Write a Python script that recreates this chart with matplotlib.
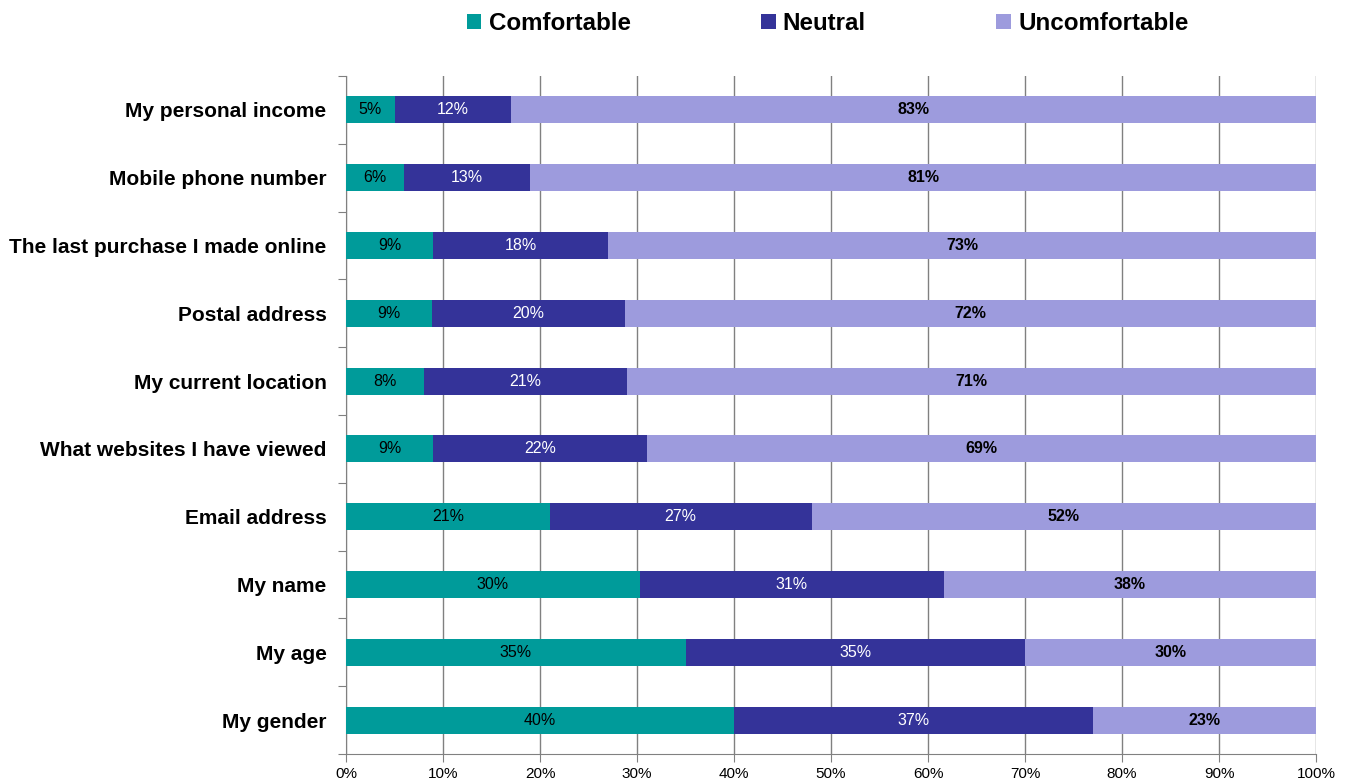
import numpy as np
import matplotlib
matplotlib.use("Agg")
from matplotlib import pyplot as plt
from matplotlib.ticker import FuncFormatter, FixedLocator

plt.rcParams['font.family'] = ['Liberation Sans', 'DejaVu Sans']

# data (top to bottom as in the chart)
categories = ["My personal income", "Mobile phone number", "The last purchase I made online",
              "Postal address", "My current location", "What websites I have viewed",
              "Email address", "My name", "My age", "My gender"]
comfortable = [5, 6, 9, 9, 8, 9, 21, 30, 35, 40]
neutral = [12, 13, 18, 20, 21, 22, 27, 31, 35, 37]
uncomfortable = [83, 81, 73, 72, 71, 69, 52, 38, 30, 23]
series_names = ["Comfortable", "Neutral", "Uncomfortable"]
colors = ["#009B9A", "#343399", "#9D9BDD"]
label_colors = ["black", "white", "black"]
label_weights = ["normal", "normal", "bold"]

raw = np.array([comfortable, neutral, uncomfortable], dtype=float)
shares = raw / raw.sum(axis=0) * 100  # 100% stacked

fig = plt.figure(figsize=(13.48, 7.83), dpi=100)
ax = fig.add_axes([0.2567, 0.037, 0.7196, 0.866])

y = np.arange(len(categories))
left = np.zeros(len(categories))
for i in range(3):
    ax.barh(y, shares[i], left=left, height=0.4, color=colors[i],
            label=series_names[i], zorder=3)
    for j in range(len(categories)):
        ax.text(left[j] + shares[i][j] / 2, y[j], "%d%%" % raw[i][j], ha="center", va="center",
                fontsize=11.5, color=label_colors[i], fontweight=label_weights[i], zorder=4)
    left += shares[i]

ax.set_xlim(0, 100)
ax.set_ylim(len(categories) - 0.5, -0.5)
ax.xaxis.set_major_locator(FixedLocator(np.arange(0, 101, 10)))
ax.xaxis.set_major_formatter(FuncFormatter(lambda v, p: "%d%%" % v))
ax.grid(axis="x", color="#808080", linewidth=1, zorder=0)
ax.set_axisbelow(True)

# category labels centred, tick marks between categories
ax.set_yticks(np.arange(-0.5, len(categories), 1.0))
ax.set_yticklabels([])
ax.set_yticks(y, minor=True)
ax.set_yticklabels(categories, minor=True, fontsize=15, fontweight="bold")
ax.tick_params(axis="y", which="minor", length=0, pad=14)
ax.tick_params(axis="y", which="major", length=6, color="#808080")
ax.tick_params(axis="x", length=6, color="#808080", labelsize=11)

for s in ["top", "right"]:
    ax.spines[s].set_visible(False)
for s in ["left", "bottom"]:
    ax.spines[s].set_color("#808080")

fig.legend(loc="center", bbox_to_anchor=(0.614, 0.970), ncol=3, frameon=False,
           prop={"size": 17.4, "weight": "bold"}, handlelength=0.6, handleheight=0.6,
           handletextpad=0.3, columnspacing=5.4)

fig.savefig("out.png", dpi=100)
